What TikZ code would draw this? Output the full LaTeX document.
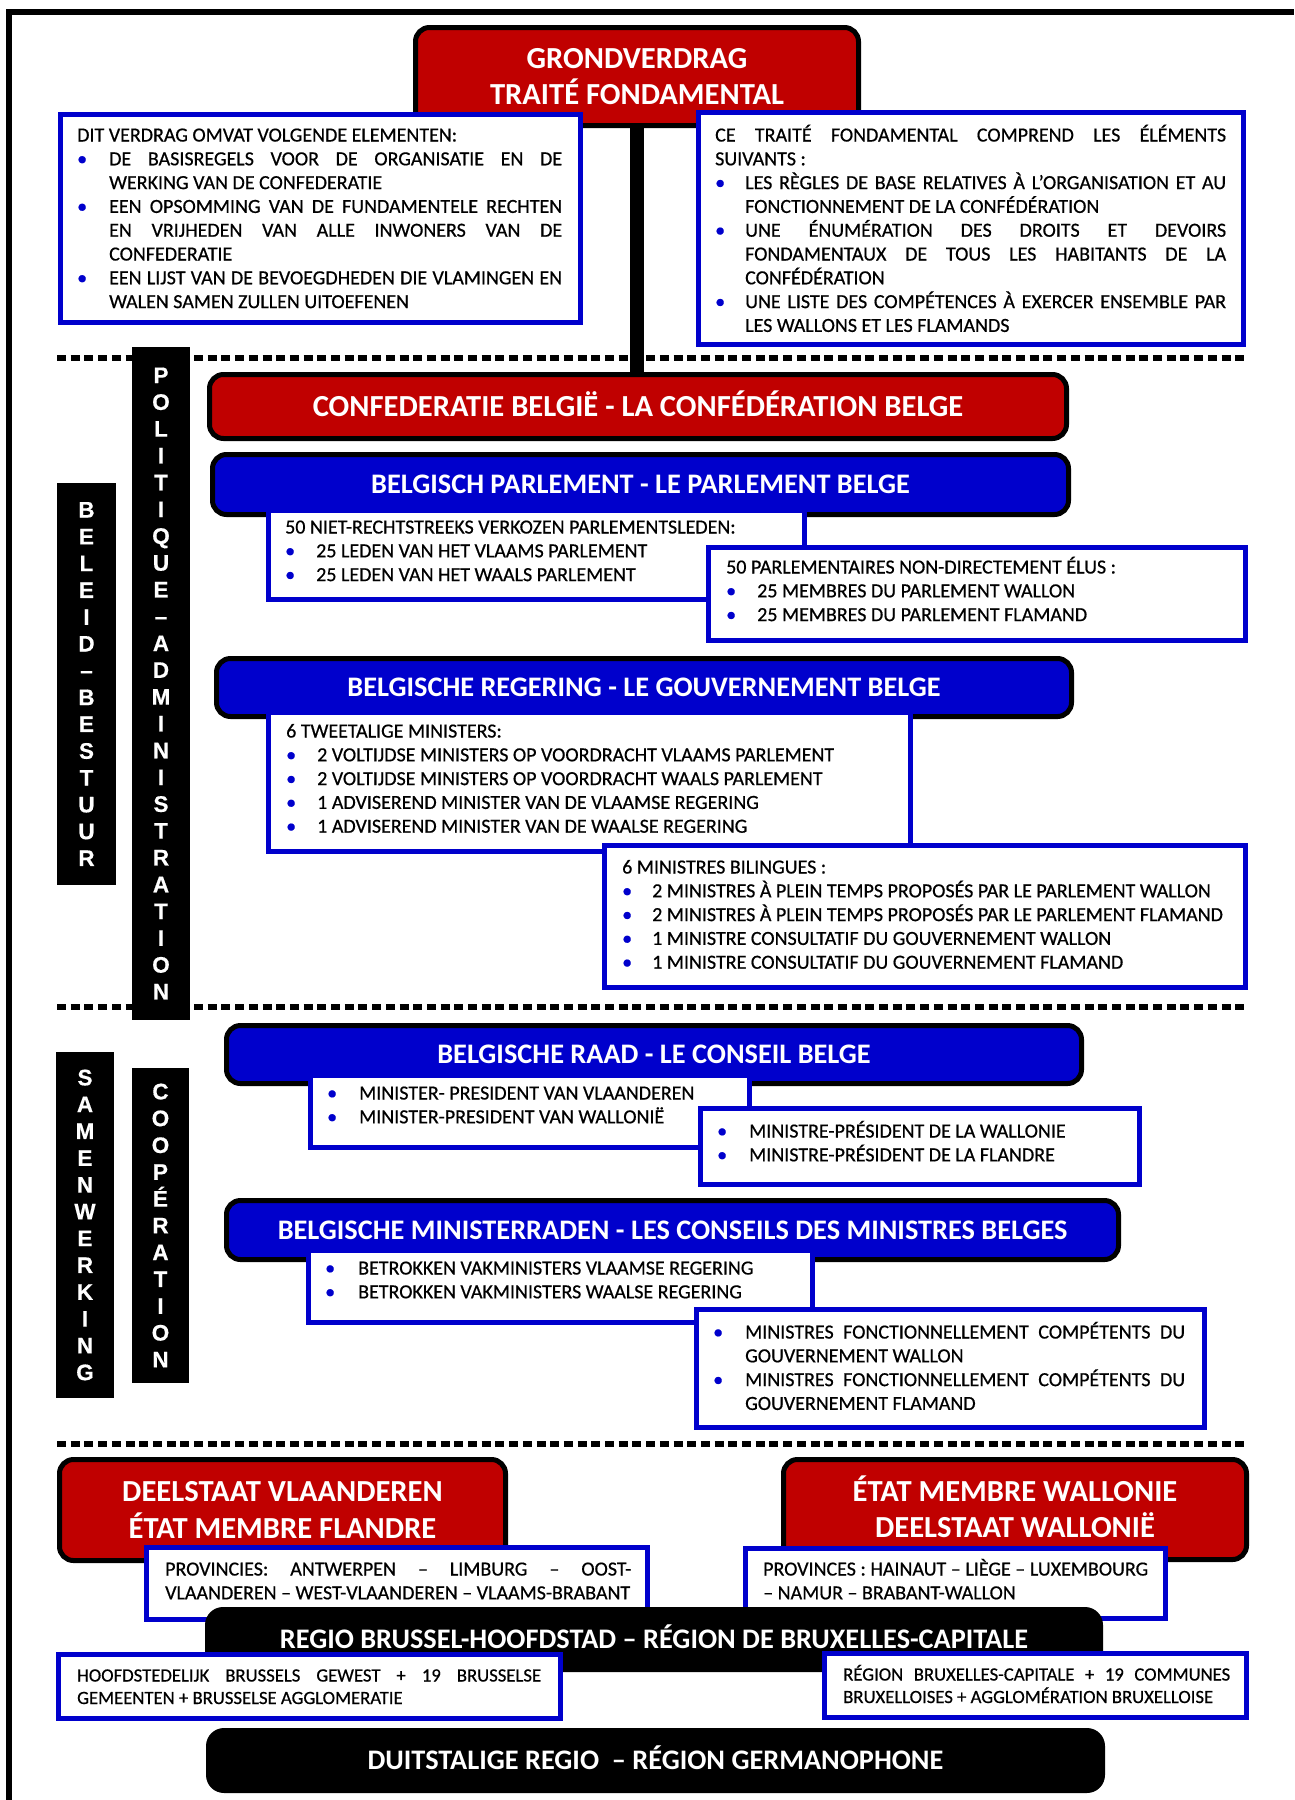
\documentclass[tikz,border=0pt]{standalone}
\usepackage{fontspec}
\setmainfont{Carlito}
\newfontface\bodyfont{Carlito}[FakeBold=0.6]
\newfontface\vfont{Liberation Sans Bold}[FakeBold=0.5]
\definecolor{hred}{HTML}{C00000}
\definecolor{hblue}{HTML}{0000CC}
\definecolor{bblue}{HTML}{0000CC}
\newcommand{\bu}[1]{\makebox[#1][l]{\textcolor{bblue}{\textbullet}}}
\newcommand{\jl}[2]{\makebox[#1][s]{#2}}
\newcommand{\tb}[2]{\parbox[t]{#1}{#2}}
\begin{document}
\begin{tikzpicture}[x=1pt,y=-1pt,
  hdr/.style={draw=black, line width=5pt, rounded corners=14pt, text=white, inner sep=0pt, align=center},
  bigfont/.style={font=\bfseries\fontsize{30.6}{36.5}\selectfont},
  midfont/.style={font=\bfseries\fontsize{28.3}{34}\selectfont, text height=18.3pt, text depth=0pt},
  redhdr/.style={hdr, fill=hred, bigfont},
  redbar/.style={hdr, fill=hred, bigfont, text height=19.7pt, text depth=0pt},
  bluehdr/.style={hdr, fill=hblue, midfont},
  blkhdr/.style={fill=black, rounded corners=18pt, text=white, inner sep=0pt, midfont},
  wbox/.style={draw=bblue, line width=5.5pt, fill=white, inner sep=0pt},
  txt/.style={anchor=base west, inner sep=0pt, text=black, font=\bodyfont\fontsize{20}{23.8}\selectfont},
  stxt/.style={txt, font=\bodyfont\fontsize{18.7}{22.5}\selectfont},
  vbar/.style={fill=black, inner sep=0pt, text=white, align=center,
    font=\vfont\fontsize{22.5}{26.8}\selectfont},
  dotline/.style={line width=6pt, dash pattern=on 9pt off 4.7pt},
  frame/.style={line width=6pt}
]
\useasboundingbox (0,0) rectangle (1294,1800);
\fill[white] (0,0) rectangle (1294,1800);
% frame
\draw[frame] (8.5,1800) -- (8.5,12) -- (1294,12);
% dotted separators
\draw[dotline] (57,358) -- (1246,358);
\draw[dotline] (57,1007) -- (1246,1007);
\draw[dotline] (57,1444) -- (1246,1444);

% top
\node[redhdr, minimum width=443pt, minimum height=98pt] (grond) at (637,76.5) {GRONDVERDRAG\\TRAITÉ FONDAMENTAL};
\node[wbox, minimum width=520pt, minimum height=208pt] (nltop) at (320.5,218.5) {};
\node[wbox, minimum width=545pt, minimum height=232pt] (frtop) at (971,228.5) {};
\node[txt] (nltoptxt) at (77,141.5) {\tb{485pt}{%
DIT VERDRAG OMVAT VOLGENDE ELEMENTEN:\\
\bu{32pt}\jl{453pt}{DE BASISREGELS VOOR DE ORGANISATIE EN DE}\\
\hspace*{32pt}WERKING VAN DE CONFEDERATIE\\
\bu{32pt}\jl{453pt}{EEN OPSOMMING VAN DE FUNDAMENTELE RECHTEN}\\
\hspace*{32pt}\jl{453pt}{EN VRIJHEDEN VAN ALLE INWONERS VAN DE}\\
\hspace*{32pt}CONFEDERATIE\\
\bu{32pt}\jl{453pt}{EEN LIJST VAN DE BEVOEGDHEDEN DIE VLAMINGEN EN}\\
\hspace*{32pt}WALEN SAMEN ZULLEN UITOEFENEN}};
\node[txt] (frtoptxt) at (715,141.5) {\tb{511pt}{%
\jl{511pt}{CE TRAITÉ FONDAMENTAL COMPREND LES ÉLÉMENTS}\\
SUIVANTS :\\
\bu{30pt}\jl{481pt}{LES RÈGLES DE BASE RELATIVES À L’ORGANISATION ET AU}\\
\hspace*{30pt}FONCTIONNEMENT DE LA CONFÉDÉRATION\\
\bu{30pt}\jl{481pt}{UNE ÉNUMÉRATION DES DROITS ET DEVOIRS}\\
\hspace*{30pt}\jl{481pt}{FONDAMENTAUX DE TOUS LES HABITANTS DE LA}\\
\hspace*{30pt}CONFÉDÉRATION\\
\bu{30pt}\jl{481pt}{UNE LISTE DES COMPÉTENCES À EXERCER ENSEMBLE PAR}\\
\hspace*{30pt}LES WALLONS ET LES FLAMANDS}};
\draw[line width=14pt] (grond.south) -- (grond.south |- 0,374);

% side bars
\node[vbar, minimum width=58pt, minimum height=673pt] (polbar) at (161,683.5)
  {P\\O\\L\\I\\T\\I\\Q\\U\\E\\–\\A\\D\\M\\I\\N\\I\\S\\T\\R\\A\\T\\I\\O\\N};
\node[vbar, minimum width=59pt, minimum height=402pt] (belbar) at (86.5,684)
  {B\\E\\L\\E\\I\\D\\–\\B\\E\\S\\T\\U\\U\\R};
\node[vbar, minimum width=58pt, minimum height=346pt] (sambar) at (85,1225)
  {S\\A\\M\\E\\N\\W\\E\\R\\K\\I\\N\\G};
\node[vbar, minimum width=57pt, minimum height=315pt] (coobar) at (160.5,1225.5)
  {C\\O\\O\\P\\É\\R\\A\\T\\I\\O\\N};

% confederation
\node[redbar, minimum width=857pt, minimum height=64pt] (conf) at (638,406.5) {CONFEDERATIE BELGIË - LA CONFÉDÉRATION BELGE};

% parliament
\node[bluehdr, minimum width=856pt, minimum height=60pt] (parl) at (640.5,484.5) {BELGISCH PARLEMENT - LE PARLEMENT BELGE};
\node[wbox, minimum width=536pt, minimum height=89pt] (parlnl) at (536.5,555) {};
\node[txt] (parlnltxt) at (285,533.5) {\tb{520pt}{%
50 NIET-RECHTSTREEKS VERKOZEN PARLEMENTSLEDEN:\\
\bu{31pt}25 LEDEN VAN HET VLAAMS PARLEMENT\\
\bu{31pt}25 LEDEN VAN HET WAALS PARLEMENT}};
\node[wbox, minimum width=537pt, minimum height=93pt] (parlfr) at (977,594) {};
\node[txt] (parlfrtxt) at (726,573.5) {\tb{500pt}{%
50 PARLEMENTAIRES NON-DIRECTEMENT ÉLUS :\\
\bu{31pt}25 MEMBRES DU PARLEMENT WALLON\\
\bu{31pt}25 MEMBRES DU PARLEMENT FLAMAND}};

% government
\node[bluehdr, minimum width=855pt, minimum height=58pt] (reg) at (644,687.5) {BELGISCHE REGERING - LE GOUVERNEMENT BELGE};
\node[wbox, minimum width=642pt, minimum height=139pt] (regnl) at (589.5,782) {};
\node[txt] (regnltxt) at (286,737.5) {\tb{620pt}{%
6 TWEETALIGE MINISTERS:\\
\bu{31pt}2 VOLTIJDSE MINISTERS OP VOORDRACHT VLAAMS PARLEMENT\\
\bu{31pt}2 VOLTIJDSE MINISTERS OP VOORDRACHT WAALS PARLEMENT\\
\bu{31pt}1 ADVISEREND MINISTER VAN DE VLAAMSE REGERING\\
\bu{31pt}1 ADVISEREND MINISTER VAN DE WAALSE REGERING}};
\node[wbox, minimum width=641pt, minimum height=142pt] (regfr) at (925,916.5) {};
\node[txt] (regfrtxt) at (622,873.5) {\tb{620pt}{%
6 MINISTRES BILINGUES :\\
\bu{30pt}2 MINISTRES À PLEIN TEMPS PROPOSÉS PAR LE PARLEMENT WALLON\\
\bu{30pt}2 MINISTRES À PLEIN TEMPS PROPOSÉS PAR LE PARLEMENT FLAMAND\\
\bu{30pt}1 MINISTRE CONSULTATIF DU GOUVERNEMENT WALLON\\
\bu{30pt}1 MINISTRE CONSULTATIF DU GOUVERNEMENT FLAMAND}};

% council
\node[bluehdr, minimum width=855pt, minimum height=58pt] (raad) at (654,1054.5) {BELGISCHE RAAD - LE CONSEIL BELGE};
\node[wbox, minimum width=439pt, minimum height=72pt] (raadnl) at (530,1111.5) {};
\node[txt] (raadnltxt) at (327,1099.5) {\tb{420pt}{%
\bu{32pt}MINISTER- PRESIDENT VAN VLAANDEREN\\
\bu{32pt}MINISTER-PRESIDENT VAN WALLONIË}};
\node[wbox, minimum width=439pt, minimum height=76pt] (raadfr) at (920,1146.5) {};
\node[txt] (raadfrtxt) at (717,1137.5) {\tb{420pt}{%
\bu{32pt}MINISTRE-PRÉSIDENT DE LA WALLONIE\\
\bu{32pt}MINISTRE-PRÉSIDENT DE LA FLANDRE}};

% councils of ministers
\node[bluehdr, minimum width=892pt, minimum height=59pt] (minr) at (672.5,1230) {BELGISCHE MINISTERRADEN - LES CONSEILS DES MINISTRES BELGES};
\node[wbox, minimum width=504pt, minimum height=72pt] (minnl) at (560.5,1286.5) {};
\node[txt] (minnltxt) at (325,1274.5) {\tb{480pt}{%
\bu{33pt}BETROKKEN VAKMINISTERS VLAAMSE REGERING\\
\bu{33pt}BETROKKEN VAKMINISTERS WAALSE REGERING}};
\node[wbox, minimum width=508pt, minimum height=118pt] (minfr) at (950.5,1368.5) {};
\node[txt] (minfrtxt) at (713,1338.5) {\tb{472pt}{%
\bu{32pt}\jl{440pt}{MINISTRES FONCTIONNELLEMENT COMPÉTENTS DU}\\
\hspace*{32pt}GOUVERNEMENT WALLON\\
\bu{32pt}\jl{440pt}{MINISTRES FONCTIONNELLEMENT COMPÉTENTS DU}\\
\hspace*{32pt}GOUVERNEMENT FLAMAND}};

% member states
\node[redhdr, minimum width=446pt, minimum height=101pt] (vla) at (282.5,1510) {DEELSTAAT VLAANDEREN\\ÉTAT MEMBRE FLANDRE};
\node[redhdr, minimum width=463pt, minimum height=100pt] (wal) at (1015,1509.5) {\raisebox{0pt}[20pt]{ÉTAT MEMBRE WALLONIE}\\DEELSTAAT WALLONIË};
\node[wbox, minimum width=501pt, minimum height=72pt] (provnl) at (397,1583.5) {};
\node[txt] (provnltxt) at (165,1575.5) {\tb{466pt}{%
\jl{466pt}{PROVINCIES: ANTWERPEN – LIMBURG – OOST-}\\
VLAANDEREN – WEST-VLAANDEREN – VLAAMS-BRABANT}};
\node[wbox, minimum width=420pt, minimum height=70pt] (provfr) at (955.5,1583.5) {};
\node[txt] (provfrtxt) at (763,1575.5) {\tb{385pt}{%
\jl{385pt}{PROVINCES : HAINAUT – LIÈGE – LUXEMBOURG}\\
– NAMUR – BRABANT-WALLON}};

% Brussels
\node[blkhdr, minimum width=898pt, minimum height=65pt] (bxlhdr) at (654,1639.5) {REGIO BRUSSEL-HOOFDSTAD – RÉGION DE BRUXELLES-CAPITALE};
\node[wbox, minimum width=502pt, minimum height=64pt] (hoofd) at (309.5,1686.5) {};
\node[stxt] (hoofdtxt) at (77,1681.5) {\tb{464pt}{%
\jl{464pt}{HOOFDSTEDELIJK BRUSSELS GEWEST + 19 BRUSSELSE}\\
GEMEENTEN + BRUSSELSE AGGLOMERATIE}};
\node[wbox, minimum width=422pt, minimum height=64pt] (bxl) at (1035.5,1685.5) {};
\node[stxt] (bxltxt) at (843,1680.5) {\tb{387pt}{%
\jl{387pt}{RÉGION BRUXELLES-CAPITALE + 19 COMMUNES}\\
BRUXELLOISES + AGGLOMÉRATION BRUXELLOISE}};

% German-speaking
\node[blkhdr, minimum width=899pt, minimum height=65pt] (duits) at (655.5,1760.5) {DUITSTALIGE REGIO \ – RÉGION GERMANOPHONE};
\end{tikzpicture}
\end{document}
